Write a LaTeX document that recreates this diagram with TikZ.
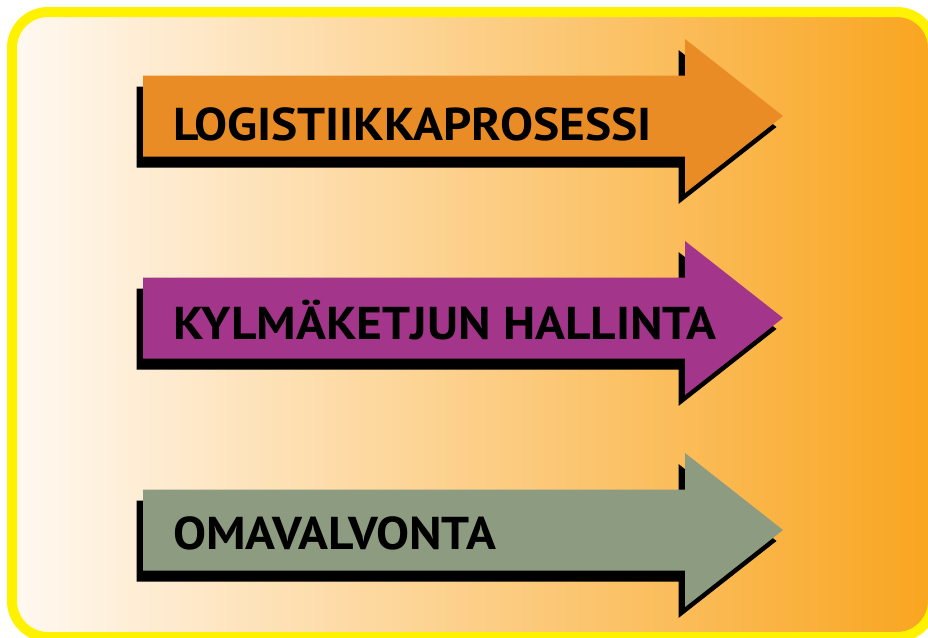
\documentclass[tikz,border=0pt]{standalone}
\usepackage{xcolor}
\usepackage{fontspec}
\setmainfont{PT Sans}[FakeStretch=1.075]
\usepackage{tikz}
\usetikzlibrary{positioning}

\definecolor{frameyellow}{HTML}{FFF200}
\definecolor{bgleft}{HTML}{FFF9F2}
\definecolor{bgmid}{HTML}{FDD7A1}
\definecolor{bgright}{HTML}{F9A51F}
\definecolor{logorange}{HTML}{EA8C25}
\definecolor{coldpurple}{HTML}{A3368A}
\definecolor{selfgreen}{HTML}{8D9B80}

% arrow outline, #1 = centre line
\newcommand{\arrowpath}[1]{(143,#1-40.5) -- (685,#1-40.5) -- (685,#1-77) -- (783,#1)
  -- (685,#1+77) -- (685,#1+40.5) -- (143,#1+40.5) -- cycle}

\tikzset{
  frame/.style={draw=frameyellow, line width=10pt, rounded corners=36pt,
    left color=bgleft, middle color=bgmid, right color=bgright},
  shadowshape/.style={fill=black, shift={(-6.5,11)}},
  arrowlabel/.style={anchor=base west, inner sep=0pt, text=black,
    font=\fontsize{46}{50}\selectfont\bfseries}
}

\begin{document}
\begin{tikzpicture}[x=1pt, y=-1pt]
    \useasboundingbox (0,0) rectangle (928,637);
    % Background
    \draw[frame] (12,12) rectangle (933,637);

    % Arrows
    \fill[shadowshape] \arrowpath{116};
    \fill[logorange] \arrowpath{116};
    \fill[shadowshape] \arrowpath{318};
    \fill[coldpurple] \arrowpath{318};
    \fill[shadowshape] \arrowpath{530};
    \fill[selfgreen] \arrowpath{530};

    % Labels
    \node[arrowlabel] (logistics) at (173,140) {LOGISTIIKKAPROSESSI};
    \node[arrowlabel] (coldchain) at (173,339) {KYLMÄKETJUN HALLINTA};
    \node[arrowlabel] (selfcontrol) at (173,549) {OMAVALVONTA};
  \end{tikzpicture}
\end{document}
